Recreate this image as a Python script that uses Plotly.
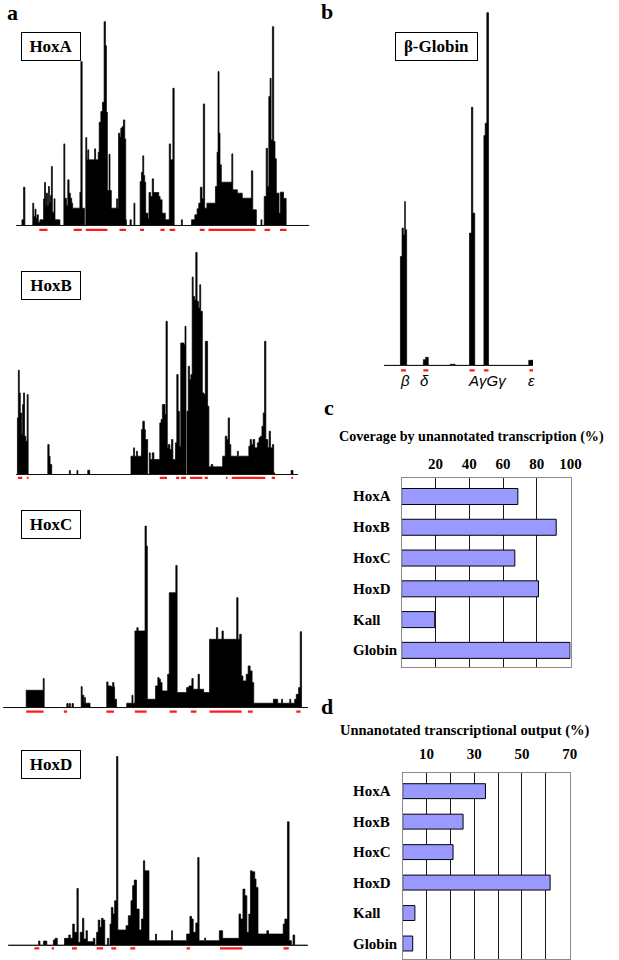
import plotly.graph_objects as go

W, H = 619, 960
SERIF = "Liberation Serif, Times New Roman, serif"

# ---------------- data ----------------
# signal tracks: (position, signal) steps; each signal holds until next position
hoxa_steps = [(50,0),(67,17),(72,115),(76,0),(100,67),(103,27),(107,49),(110,22),(113,32),(117,10),(122,17),
 (133,80),(136,129),(139,60),(141,97),(145,60),(148,117),(151,70),(154,90),(157,177),(160,40),(165,80),(168,17),
 (183,0),(195,245),(198,82),(203,60),(207,137),(211,97),(215,82),(219,67),(222,52),(244,100),(247,492),(251,52),
 (258,0),(262,264),(265,197),(268,227),(271,197),(289,230),(292,197),(300,220),(303,310),(308,342),(313,370),
 (318,612),(322,540),(325,340),(328,105),(333,214),(336,105),(340,52),(356,80),(359,52),(362,277),(366,265),
 (369,292),(373,297),(377,317),(381,260),(384,17),(386,0),(397,17),(401,0),(409,67),(412,0),(428,132),(432,160),
 (436,209),(439,150),(442,130),(445,37),(452,20),(455,99),(460,87),(465,140),(469,99),(485,87),(489,77),(495,37),
 (505,17),(517,245),(521,197),(528,412),(532,0),(554,17),(557,0),(585,17),(595,32),(602,50),(607,67),(612,115),
 (617,80),(621,365),(625,52),(632,67),(658,117),(663,220),(666,462),(669,277),(672,182),(676,130),(708,215),
 (711,107),(725,97),(740,82),(768,164),(772,47),(783,0),(797,17),(800,0),(807,87),(813,232),(817,117),(821,387),
 (825,442),(828,257),(832,597),(836,252),(840,200),(844,97),(852,37),(856,100),(866,81),(874,0),(945,0)]
hoxa_genes = [(120,145),(225,250),(262,328),(365,385),(428,440),(490,503),(518,535),(610,625),(637,780),(808,825),(855,875)]

hoxb_steps = [(50,0),(53,170),(56,313),(59,245),(62,185),(66,120),(69,210),(72,245),(75,115),(79,100),(83,240),(86,0),
 (146,90),(150,55),(153,30),(158,0),(212,12),(215,0),(235,12),(238,0),(268,13),(274,0),(400,55),(408,80),(411,55),
 (417,70),(420,55),(432,135),(436,160),(441,135),(444,105),(451,0),(456,65),(459,45),(465,65),(470,45),(488,155),
 (492,165),(496,210),(504,180),(507,460),(511,80),(514,90),(519,75),(524,105),(528,45),(536,95),(540,300),(544,190),
 (548,85),(552,395),(562,390),(565,445),(568,0),(571,190),(575,325),(579,285),(583,300),(587,593),(590,535),
 (594,525),(598,667),(602,520),(606,500),(610,570),(613,490),(618,245),(623,240),(627,400),(631,400),(634,205),
 (638,23),(645,30),(650,23),(680,55),(683,55),(688,115),(693,105),(697,170),(701,90),(705,55),(725,70),(728,55),
 (760,85),(764,105),(768,90),(773,105),(778,80),(786,95),(791,110),(795,115),(800,145),(804,185),(808,400),
 (812,105),(818,80),(822,130),(826,80),(832,90),(836,5),(839,0),(889,12),(895,0),(910,0)]
hoxb_genes = [(55,68),(82,87),(488,510),(538,548),(553,568),(580,618),(625,635),(690,695),(708,810),(830,840),(890,895)]

hoxc_steps = [(10,0),(80,52),(132,87),(135,0),(204,12),(208,0),(211,12),(215,0),(220,12),(224,0),(248,63),(251,37),
 (256,13),(258,30),(261,13),(275,0),(326,77),(330,65),(340,62),(344,75),(348,62),(350,25),(356,0),(387,13),(400,13),
 (403,37),(406,13),(412,230),(418,240),(422,230),(443,545),(447,485),(450,25),(475,65),(482,90),(486,85),(490,75),
 (495,50),(512,100),(517,345),(525,345),(537,427),(541,45),(570,60),(577,65),(586,87),(590,55),(605,100),(609,55),
 (622,45),(640,205),(661,240),(665,205),(678,230),(682,205),(723,330),(727,205),(732,220),(737,95),(742,80),
 (752,100),(758,125),(764,110),(770,75),(775,13),(835,25),(848,13),(860,25),(863,13),(885,25),(888,13),(900,25),
 (905,40),(912,60),(917,228),(921,0),(940,0)]
hoxc_genes = [(80,133),(195,205),(325,348),(412,448),(518,540),(583,600),(640,738),(757,772),(905,918)]

hoxd_steps = [(25,0),(118,12),(122,0),(133,12),(143,0),(163,15),(168,20),(175,0),(197,20),(210,30),(215,20),
 (222,63),(227,38),(235,170),(239,8),(245,38),(252,80),(256,18),(263,43),(267,10),(285,20),(290,0),(295,38),
 (300,75),(305,53),(310,80),(315,75),(320,0),(328,20),(332,0),(336,63),(340,113),(345,93),(350,133),(356,566),
 (360,45),(385,58),(392,88),(400,133),(405,178),(410,195),(417,108),(425,45),(432,78),(438,253),(442,223),(455,13),
 (475,33),(478,13),(524,43),(527,13),(570,33),(580,86),(585,78),(590,38),(598,66),(604,263),(608,13),(625,21),
 (628,13),(670,43),(680,20),(730,93),(735,78),(742,168),(748,148),(754,38),(760,93),(765,223),(770,220),(778,198),
 (782,173),(788,33),(815,43),(820,33),(865,63),(870,78),(878,370),(883,13),(890,0),(895,30),(900,0),(940,0)]
hoxd_genes = [(105,120),(158,165),(220,235),(295,315),(340,355),(398,413),(570,580),(672,740),(866,882)]

globin_steps = [(212,0),(263,327),(268,412),(272,392),(276,492),(278,407),(282,0),(333,17),(340,24),(348,0),
 (415,3),(430,0),(474,397),(480,775),(484,457),(490,0),(518,690),(522,727),(527,1059),(532,0),(655,15),(668,0)]
globin_genes = [(265,280),(333,348),(474,490),(518,532),(657,668)]
globin_gene_names = ["β", "δ", "AγGγ", "ε"]
globin_gene_label_x = [277, 338, 528, 663]

loci = ["HoxA", "HoxB", "HoxC", "HoxD", "Kall", "Globin"]
coverage_pct = [68.8, 91.5, 67.0, 81.0, 19.6, 99.7]
output_pct = [34.7, 25.3, 21.1, 61.8, 5.1, 4.2]
coverage_ticks = [20, 40, 60, 80, 100]
output_grid = [10, 20, 30, 40, 50, 60, 70]
output_labels = ["10", "", "30", "", "50", "", "70"]

# ---------------- layout helpers ----------------
def xd(p0, p1):
    return [max(0, p0 / W), min(1, p1 / W)]

def yd(top, bottom):
    return [max(0, 1 - bottom / H), min(1, 1 - top / H)]

fig = go.Figure()
layout = dict(width=W, height=H, autosize=False, margin=dict(l=0, r=0, t=0, b=0, pad=0), paper_bgcolor="white",
              plot_bgcolor="rgba(0,0,0,0)", showlegend=False)
annotations = []

tracks = [
    dict(steps=hoxa_steps, genes=hoxa_genes, xr=[50, 945], x0=0, base=225.7, label="HoxA", box=(52, 46.5), gy=-13, yr=[-25, 670]),
    dict(steps=hoxb_steps, genes=hoxb_genes, xr=[50, 910], x0=0, base=475.0, label="HoxB", box=(52, 286), gy=-10, yr=[-25, 670]),
    dict(steps=hoxc_steps, genes=hoxc_genes, xr=[10, 940], x0=0, base=708.3, label="HoxC", box=(52, 525.5), gy=-12, yr=[-25, 670]),
    dict(steps=hoxd_steps, genes=hoxd_genes, xr=[25, 940], x0=0, base=946.0, label="HoxD", box=(52, 765), gy=-10, yr=[-25, 670]),
    dict(steps=globin_steps, genes=globin_genes, xr=[212, 668], x0=320, base=365.7, label="β-Globin", box=(444.5, 46.5), gy=-15, yr=[-60, 1070]),
]

for i, t in enumerate(tracks, start=1):
    xs = [p for p, v in t["steps"]]
    ys = [v for p, v in t["steps"]]
    ax = "" if i == 1 else str(i)
    fig.add_trace(go.Scatter(x=xs, y=ys, mode="lines", line=dict(color="black", width=0.7, shape="hv"),
                             fill="tozeroy", fillcolor="black", xaxis="x" + ax, yaxis="y" + ax, hoverinfo="skip"))
    gx, gy = [], []
    for s, e in t["genes"]:
        gx += [s, e, None]
        gy += [t["gy"], t["gy"], None]
    fig.add_trace(go.Scatter(x=gx, y=gy, mode="lines", line=dict(color="#ff1a1a", width=2.2),
                             xaxis="x" + ax, yaxis="y" + ax, hoverinfo="skip"))
    px0 = t["x0"] + t["xr"][0] / 3
    px1 = t["x0"] + t["xr"][1] / 3
    top = t["base"] - t["yr"][1] / 3
    bot = t["base"] - t["yr"][0] / 3
    layout["xaxis" + ax] = dict(domain=xd(px0, px1), range=t["xr"], visible=False, anchor="y" + ax, fixedrange=True)
    layout["yaxis" + ax] = dict(domain=yd(top, bot), range=t["yr"], anchor="x" + ax, showgrid=False,
                                showticklabels=False, zeroline=True, zerolinecolor="#333333", zerolinewidth=1,
                                showline=False, ticks="")
    bw = 52 if t["label"] != "β-Globin" else 75
    annotations.append(dict(x=t["box"][0] / W, y=1 - t["box"][1] / H, xref="paper", yref="paper",
                            text="<b>%s</b>" % t["label"], showarrow=False, font=dict(family=SERIF, size=17, color="black"),
                            bordercolor="black", borderwidth=1, borderpad=3, bgcolor="white", width=bw, height=21,
                            xanchor="center", yanchor="middle"))

# Greek gene labels for the globin locus
for name, gx in zip(globin_gene_names, globin_gene_label_x):
    annotations.append(dict(x=gx, y=-45, xref="x5", yref="y5", text="<i>%s</i>" % name, showarrow=False,
                            font=dict(family="Liberation Sans, Arial, sans-serif", size=15, color="black"),
                            xanchor="center", yanchor="middle"))

# ---------------- bar charts ----------------
bar_specs = [
    dict(vals=coverage_pct, ax="6", x=(408.9, 580.9), y=(478, 668), rng=[0, 100], yr=[5.55, -0.617],
         tickvals=coverage_ticks, ticktext=[str(v) for v in coverage_ticks], standoff=2, width=0.52,
         title="Coverage by unannotated transcription (%)", tpos=(480, 437), tsize=14.1),
    dict(vals=output_pct, ax="7", x=(410, 580), y=(774, 960), rng=[0, 70], yr=[5.508, -0.59],
         tickvals=output_grid, ticktext=output_labels, standoff=7, width=0.49,
         title="Unnanotated transcriptional output (%)", tpos=(473, 731), tsize=14.5),
]
for b in bar_specs:
    ax = b["ax"]
    fig.add_trace(go.Bar(y=loci, x=b["vals"], orientation="h", width=b["width"],
                         marker=dict(color="#9999ff", line=dict(color="black", width=1)),
                         xaxis="x" + ax, yaxis="y" + ax, hoverinfo="skip"))
    layout["xaxis" + ax] = dict(domain=xd(*b["x"]), range=b["rng"], side="top", anchor="y" + ax,
                                tickvals=b["tickvals"], ticktext=b["ticktext"], showgrid=True, gridcolor="#1a1a1a",
                                gridwidth=1, zeroline=False, showline=True, linecolor="#8c8c8c", linewidth=1,
                                mirror=True, ticks="", ticklabelstandoff=b["standoff"],
                                tickfont=dict(family=SERIF, size=15, color="black", weight="bold"))
    layout["yaxis" + ax] = dict(domain=yd(*b["y"]), range=b["yr"], type="category", categoryorder="array",
                                categoryarray=loci, anchor="x" + ax, showticklabels=False, showgrid=False,
                                showline=True, linecolor="#8c8c8c", linewidth=1, mirror=True, ticks="")
    for name in loci:
        annotations.append(dict(x=357 / W, y=name, xref="paper", yref="y" + ax, text="<b>%s</b>" % name,
                                showarrow=False, xanchor="left", yanchor="middle",
                                font=dict(family=SERIF, size=15, color="black")))
    annotations.append(dict(x=b["tpos"][0] / W, y=1 - b["tpos"][1] / H, xref="paper", yref="paper",
                            text="<b>%s</b>" % b["title"], showarrow=False, xanchor="center", yanchor="middle",
                            font=dict(family=SERIF, size=b["tsize"], color="black")))

# panel letters
for letter, (px, py) in zip(["a", "b", "c", "d"], [(12.5, 13), (333, 12), (335, 408), (333, 707)]):
    annotations.append(dict(x=px / W, y=1 - py / H, xref="paper", yref="paper", text="<b>%s</b>" % letter,
                            showarrow=False, xanchor="center", yanchor="middle",
                            font=dict(family=SERIF, size=22, color="black")))

layout["annotations"] = annotations
fig.update_layout(**layout)
fig.write_html("out.html", config={"responsive": False, "displayModeBar": False},
               post_script="document.documentElement.style.overflow='hidden';document.body.style.margin='0';document.body.style.overflow='hidden';")
